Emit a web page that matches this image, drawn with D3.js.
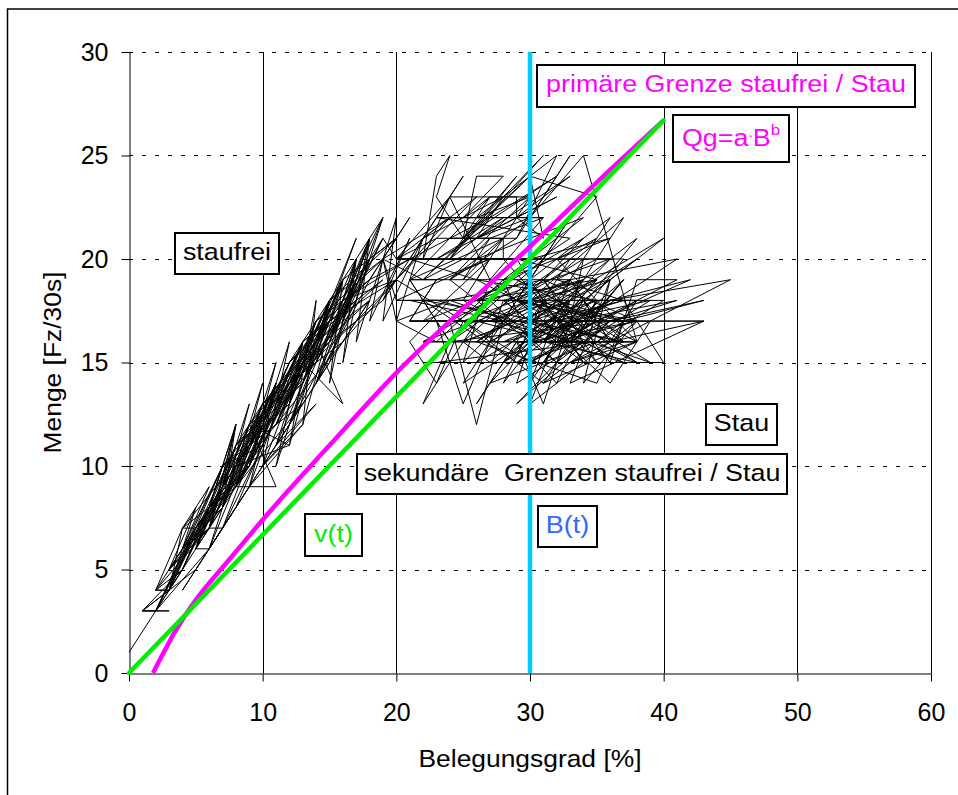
<!DOCTYPE html>
<html>
<head>
<meta charset="utf-8">
<script src="https://cdn.jsdelivr.net/npm/d3@7"></script>
<style>
  body { margin: 0; background: #fff; }
  text { font-family: Arial, 'Liberation Sans', sans-serif; }
</style>
</head>
<body>
<div id="chart"></div>
<script>
// Achsen
const xTicks = [0, 10, 20, 30, 40, 50, 60];
const yTicks = [0, 5, 10, 15, 20, 25, 30];
const xTitle = 'Belegungsgrad [%]';
const yTitle = 'Menge [Fz/30s]';

// Messwerte [Belegungsgrad, Menge], zeitlich geordnet
const morgen = [
  [0, 1], [2, 3], [1, 3], [3, 4], [2, 4], [3, 4], [4, 5], [2, 3], [5, 7], [3, 5],
  [6, 7], [4, 6], [7, 8], [5, 6], [6, 6], [8, 10], [5, 7], [9, 11], [6, 7], [7, 7],
  [10, 12], [7, 9], [8, 12], [6, 8], [9, 10], [8, 9], [11, 9], [9, 12], [7, 8], [10, 13],
  [8, 11], [12, 14], [9, 10], [11, 14], [10, 11], [13, 15], [11, 12], [14, 17], [12, 13], [13, 16],
  [11, 13], [15, 17], [12, 15], [16, 19], [13, 14], [15, 18], [14, 15], [17, 19], [15, 16], [18, 21],
  [16, 17], [17, 20], [16, 18], [19, 22], [17, 18], [18, 20], [20, 21], [18, 19], [21, 22],
];
const bogen = [
  [19, 20], [24, 22], [20, 19], [26, 23], [22, 21], [25, 24], [21, 20], [27, 22], [22, 19], [30, 24],
  [25, 21], [31, 25], [24, 20], [28, 22], [23, 20], [32, 23], [26, 21], [30, 22], [24, 19], [29, 21],
];
const stau = [
  [23, 21], [20, 20], [24, 23], [22, 20], [23, 24], [24, 25], [23, 23], [25, 21], [26, 24], [28, 24],
  [25, 22], [27, 23], [29, 23], [29, 22], [23, 22], [31, 22], [27, 21], [24, 21], [28, 21], [28, 20],
  [21, 20], [26, 19], [30, 23], [26, 22], [32, 25], [29, 21], [33, 25], [30, 22], [34, 25], [38, 16],
  [32, 20], [35, 21], [29, 18], [33, 22], [30, 19], [36, 22], [31, 17], [22, 18], [38, 18], [33, 16],
  [27, 19], [25, 15], [28, 17], [21, 17], [23, 19], [21, 19], [24, 16], [33, 20], [26, 13], [29, 16],
  [35, 16], [23, 15], [38, 15], [31, 18], [28, 14], [34, 19], [22, 16], [27, 18], [32, 15], [29, 13],
  [36, 17], [30, 15], [37, 19], [33, 16], [24, 18], [31, 19], [35, 15], [28, 20], [20, 20], [36, 20],
  [30, 16], [38, 17], [34, 14], [36, 19], [27, 16], [40, 21], [32, 17], [26, 19], [35, 18], [30, 17],
  [39, 15], [34, 17], [41, 20], [33, 19], [36, 16], [43, 17], [21, 17], [23, 19], [27, 20], [25, 18],
  [31, 16], [37, 22], [30, 18], [34, 16], [38, 16], [33, 15], [45, 19], [36, 18], [42, 19], [35, 17],
  [41, 19], [38, 19], [36, 15], [40, 15], [37, 18], [32, 19], [35, 20], [37, 20], [31, 15], [34, 15],
  [30, 13], [33, 18], [25, 16], [27, 15], [32, 18], [29, 19], [38, 16], [31, 14], [37, 17], [29, 18],
  [34, 20], [33, 17], [36, 17], [24, 16], [31, 20], [28, 17], [34, 21], [26, 18], [22, 18], [29, 15],
  [32, 15], [24, 19], [27, 21], [25, 19], [28, 21],
];
const nachmittag = [
  [21, 19], [27, 23], [24, 20], [29, 24], [25, 21], [32, 24], [27, 22], [24, 22], [22, 21], [28, 23],
  [26, 21], [33, 24], [29, 22], [31, 21], [30, 24], [35, 23], [31, 20], [26, 20], [34, 22], [28, 19],
  [36, 21], [30, 20], [20, 20], [36, 20], [27, 18], [24, 17], [26, 12], [28, 17], [21, 18], [23, 18],
  [29, 17], [26, 15], [34, 18], [30, 14], [33, 19], [27, 17], [35, 19], [31, 16], [37, 16], [33, 15],
  [22, 15], [38, 15], [30, 15], [35, 17], [32, 16], [37, 15], [34, 16], [29, 14], [31, 18], [20, 18],
  [38, 18], [36, 16], [22, 16], [38, 16], [33, 16], [29, 16], [32, 14], [35, 18], [28, 16], [34, 17],
  [39, 17], [36, 14], [31, 17], [37, 18], [32, 17], [38, 20], [33, 18], [40, 18], [35, 16], [27, 14],
  [30, 16], [36, 18], [31, 15], [34, 18], [37, 16], [29, 17], [21, 17], [43, 17], [33, 14], [36, 19],
  [30, 18], [38, 17], [32, 16], [26, 17], [24, 15], [22, 13], [24, 16], [21, 19], [33, 19], [25, 17],
  [23, 17], [25, 13], [27, 16], [28, 18], [34, 19], [26, 16], [35, 14], [37, 17], [32, 18], [38, 21],
  [33, 17], [41, 18], [36, 17], [43, 18], [37, 17], [31, 17], [28, 15], [32, 17], [25, 14], [30, 19],
  [34, 15], [29, 20], [35, 19], [26, 18], [33, 21], [23, 22], [31, 22], [27, 19], [24, 23], [30, 23],
  [25, 20], [22, 19], [19, 20],
];
const stauAbend = [
  [20, 18], [27, 20], [22, 17], [30, 19], [25, 16], [33, 18], [28, 15], [36, 18], [31, 16], [35, 19],
  [30, 17], [37, 16], [32, 18], [27, 17], [34, 16], [29, 15], [33, 17], [36, 15], [31, 19], [38, 17],
  [34, 15], [28, 18], [32, 16], [35, 17], [30, 15], [25, 17], [31, 14], [35, 18], [33, 16], [37, 19],
  [32, 15], [36, 17], [29, 18], [34, 17], [31, 16], [38, 15], [35, 16], [30, 18], [26, 16], [33, 19],
  [36, 16], [32, 17], [39, 18], [34, 16], [29, 16], [31, 13], [33, 17], [30, 16], [28, 19], [23, 16],
  [20, 17], [24, 18], [21, 16], [23, 14], [25, 17], [20, 19], [19, 18],
];
const abend = [
  [22, 21], [20, 20], [19, 21], [17, 19], [18, 21], [16, 18], [17, 20], [15, 17], [16, 19], [14, 16],
  [16, 13], [13, 15], [15, 18], [12, 14], [14, 16], [11, 13], [13, 16], [10, 12], [12, 15], [9, 11],
  [11, 14], [8, 10], [12, 11], [9, 12], [7, 9], [10, 12], [6, 8], [9, 10], [7, 8], [8, 12],
  [6, 7], [8, 11], [5, 6], [7, 10], [4, 6], [6, 9], [4, 7], [5, 7], [3, 5], [5, 8],
  [3, 4], [4, 7], [2, 4], [4, 5], [1, 3], [3, 3], [2, 3],
];
const nacht = [
  [3, 4], [7, 8], [4, 6], [9, 10], [5, 7], [10, 11], [7, 10], [12, 13], [8, 11], [13, 14],
  [9, 12], [14, 16], [10, 13], [15, 16], [11, 13], [16, 18], [12, 15], [17, 18], [13, 16], [18, 19],
  [14, 17], [19, 20], [15, 18], [20, 21], [16, 19], [19, 22], [16, 17], [19, 21], [15, 16], [18, 20],
  [14, 15], [17, 19], [13, 14], [17, 21], [12, 13], [16, 19], [11, 12], [15, 18], [10, 11], [14, 17],
  [9, 10], [13, 16], [8, 9], [12, 15], [7, 8], [11, 14], [6, 7], [10, 13], [5, 6], [9, 12],
  [4, 5], [8, 11], [3, 4], [7, 10], [2, 3], [6, 8], [2, 4], [6, 7], [3, 5], [8, 9],
  [4, 7], [9, 11], [6, 8], [11, 12], [7, 10], [12, 14], [8, 9], [13, 13], [9, 11], [14, 15],
  [10, 13], [15, 17], [11, 12], [16, 16], [12, 14], [17, 17], [13, 15], [18, 18], [14, 16], [19, 19],
  [15, 17], [20, 19], [16, 18], [21, 20], [18, 19], [14, 14], [17, 18], [12, 12], [15, 15], [11, 11],
  [14, 13], [10, 10], [13, 12], [9, 9], [12, 12], [8, 8], [10, 11], [7, 7], [9, 9], [6, 6],
  [8, 8], [5, 5], [7, 7], [4, 4], [5, 5], [3, 4], [1, 3],
];
const folgetag = [
  [2, 3], [6, 6], [11, 14], [9, 9], [13, 16], [11, 10], [15, 18], [12, 11], [14, 18], [13, 12],
  [16, 19], [15, 14], [17, 20], [16, 15], [18, 21], [17, 16], [20, 22], [19, 17], [22, 21], [20, 17],
  [19, 20], [18, 17], [21, 21], [19, 18], [17, 17], [20, 19], [16, 16], [18, 18], [15, 15], [17, 19],
  [14, 14], [16, 18], [12, 12], [15, 17], [11, 11], [13, 15], [10, 10], [12, 16], [9, 10], [11, 15],
  [8, 9], [10, 14], [7, 8], [9, 13], [6, 7], [8, 12], [5, 6], [7, 9], [4, 5], [6, 8],
  [3, 4], [5, 7], [2, 3],
];

// Grenzlinien
const grenzeB = [1.8, 2.6, 3.4, 4.3, 5.5, 7, 8.5, 10, 15, 20, 25, 30, 35, 40];
const grenzeQ = [0, 1.0, 1.95, 2.88, 3.95, 5.1, 6.25, 7.4, 11.0, 14.5, 17.6, 20.6, 23.7, 26.7];
const vB = [0, 40];
const vQ = [0, 26.7];
const bGrenze = 30;

const width = 958;
const height = 795;
const margin = { top: 52, right: 27, bottom: 122, left: 129 };

const svg = d3
  .select('#chart')
  .append('svg')
  .attr('width', width)
  .attr('height', height);

// Rahmen
svg
  .append('rect')
  .attr('x', 7.5)
  .attr('y', 9)
  .attr('width', 1000)
  .attr('height', 900)
  .attr('fill', '#fff')
  .attr('stroke', '#000')
  .attr('stroke-width', 1.5);

const xScale = d3
  .scaleLinear()
  .domain([0, 60])
  .range([margin.left, width - margin.right]);
const yScale = d3
  .scaleLinear()
  .domain([0, 30])
  .range([height - margin.bottom, margin.top]);

const grid = svg.append('g');

grid
  .selectAll('.vgrid')
  .data(xTicks.slice(1))
  .join('line')
  .attr('class', 'vgrid')
  .attr('x1', (d) => Math.round(xScale(d)) + 0.5)
  .attr('x2', (d) => Math.round(xScale(d)) + 0.5)
  .attr('y1', yScale(30))
  .attr('y2', yScale(0))
  .attr('stroke', '#000')
  .attr('stroke-width', 1);

grid
  .selectAll('.hgrid')
  .data(yTicks.slice(1))
  .join('line')
  .attr('class', 'hgrid')
  .attr('x1', xScale(0))
  .attr('x2', xScale(60))
  .attr('y1', (d) => Math.round(yScale(d)) + 0.5)
  .attr('y2', (d) => Math.round(yScale(d)) + 0.5)
  .attr('stroke', '#000')
  .attr('stroke-width', 1)
  .attr('stroke-dasharray', '4,9');

// Achsen
const xAxis = svg
  .append('g')
  .attr('transform', `translate(0,${Math.round(yScale(0)) + 0.5})`)
  .call(
    d3.axisBottom(xScale).tickValues(xTicks).tickSize(8).tickSizeOuter(0).tickPadding(22)
  );
const yAxis = svg
  .append('g')
  .attr('transform', `translate(${Math.round(xScale(0)) + 0.5},0)`)
  .call(
    d3.axisLeft(yScale).tickValues(yTicks).tickSize(8).tickSizeOuter(0).tickPadding(13)
  );

[xAxis, yAxis].forEach((ax) => {
  ax.selectAll('path').attr('stroke', '#000').attr('stroke-width', 1);
  ax.selectAll('line').attr('stroke', '#000').attr('stroke-width', 1);
  ax.selectAll('text')
    .attr('fill', '#000')
    .style('font-size', '25px')
    .style('font-family', "Arial, 'Liberation Sans', sans-serif");
});

// Messwerte
const messwerte = [
  ...morgen,
  ...bogen,
  ...stau,
  ...nachmittag,
  ...stauAbend,
  ...abend,
  ...nacht,
  ...folgetag,
];
const line = d3
  .line()
  .x((d) => xScale(d[0]))
  .y((d) => yScale(d[1]));

svg
  .append('path')
  .datum(messwerte)
  .attr('d', line)
  .attr('fill', 'none')
  .attr('stroke', '#000')
  .attr('stroke-width', 1)
  .attr('stroke-linejoin', 'miter');

// B(t)
svg
  .append('line')
  .attr('x1', xScale(bGrenze))
  .attr('x2', xScale(bGrenze))
  .attr('y1', yScale(0))
  .attr('y2', yScale(30))
  .attr('stroke', '#00ccff')
  .attr('stroke-width', 4.5);

// Qg = a*B^b
const grenze = grenzeB.map((b, i) => [b, grenzeQ[i]]);
svg
  .append('path')
  .datum(grenze)
  .attr('d', line.curve(d3.curveMonotoneX))
  .attr('fill', 'none')
  .attr('stroke', '#ff00ff')
  .attr('stroke-width', 4.5);

// v(t)
svg
  .append('path')
  .datum(vB.map((b, i) => [b, vQ[i]]))
  .attr('d', line.curve(d3.curveLinear))
  .attr('fill', 'none')
  .attr('stroke', '#00ee00')
  .attr('stroke-width', 4.5)
  .attr('stroke-linecap', 'round');

// Beschriftungen
const boxes = [
  { text: 'staufrei', color: '#000', x: 175, y: 233, w: 104, h: 41, base: 27 },
  { text: 'primäre Grenze staufrei / Stau', color: '#ff00ff', x: 537, y: 65, w: 378, h: 42, base: 27 },
  { text: 'Qg', color: '#ff00ff', x: 673, y: 115, w: 116, h: 47, base: 31, formel: true },
  { text: 'Stau', color: '#000', x: 706, y: 404, w: 71, h: 41, base: 27 },
  { text: 'sekundäre  Grenzen staufrei / Stau', color: '#000', x: 357, y: 454, w: 430, h: 40, base: 27 },
  { text: 'v(t)', color: '#00ee00', x: 305, y: 514, w: 57, h: 42, base: 28 },
  { text: 'B(t)', color: '#3366ff', x: 538, y: 506, w: 59, h: 41, base: 27 },
];

const anno = svg.append('g');
boxes.forEach((b) => {
  anno
    .append('rect')
    .attr('x', b.x)
    .attr('y', b.y)
    .attr('width', b.w)
    .attr('height', b.h)
    .attr('fill', '#fff')
    .attr('stroke', '#000')
    .attr('stroke-width', 2);
  const g = anno
    .append('g')
    .attr('transform', `translate(${b.x + b.w / 2},${b.y + b.base}) scale(1.12,1)`);
  const t = g
    .append('text')
    .attr('text-anchor', 'middle')
    .attr('fill', b.color)
    .style('font-size', '24px')
    .style('white-space', 'pre');
  if (b.formel) {
    t.append('tspan').text('Qg=a');
    t.append('tspan').attr('dy', -9).style('font-size', '14px').text('.');
    t.append('tspan').attr('dy', 9).text('B');
    t.append('tspan').attr('dy', -11).style('font-size', '15px').text('b');
  } else {
    t.text(b.text);
  }
});

// Achsentitel
svg
  .append('g')
  .attr('transform', `translate(${(xScale(0) + xScale(60)) / 2},767) scale(1.1,1)`)
  .append('text')
  .attr('text-anchor', 'middle')
  .style('font-size', '24px')
  .text(xTitle);

svg
  .append('g')
  .attr('transform', `translate(61,${(yScale(0) + yScale(30)) / 2}) rotate(-90) scale(1.1,1)`)
  .append('text')
  .attr('text-anchor', 'middle')
  .style('font-size', '24px')
  .text(yTitle);
</script>
</body>
</html>
